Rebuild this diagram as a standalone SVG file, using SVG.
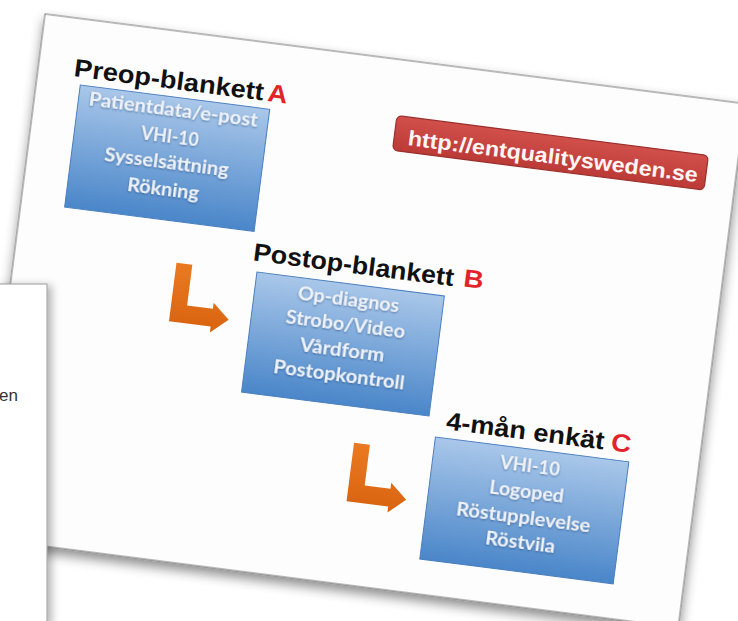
<svg xmlns="http://www.w3.org/2000/svg" width="738" height="621" viewBox="0 0 738 621">
<defs>
<style>
.title{font-family:"Liberation Sans",Arial,sans-serif;font-weight:bold;font-size:25px;fill:#111}
.letter{font-family:"Liberation Sans",Arial,sans-serif;font-weight:bold;font-size:25px;fill:#e2242a}
.box{fill:url(#blue);stroke:#4a7fbf;stroke-width:1}
.bt{font-family:Lato,"Open Sans",sans-serif;font-weight:bold;font-size:19px;fill:#eef3fb;text-anchor:middle}
.arrow{fill:url(#orange)}
.url{font-family:"Liberation Sans",Arial,sans-serif;font-weight:bold;font-size:21px;fill:#fff6f4}
.side{font-family:"Liberation Sans",Arial,sans-serif;font-size:17px;fill:#333}
</style>
<linearGradient id="blue" x1="0" y1="0" x2="0" y2="1">
<stop offset="0" stop-color="#a9c7e9"/>
<stop offset="1" stop-color="#4a86c9"/>
</linearGradient>
<linearGradient id="orange" x1="0" y1="0" x2="0" y2="1">
<stop offset="0" stop-color="#ea7a22"/>
<stop offset="1" stop-color="#d9630f"/>
</linearGradient>
<linearGradient id="red" x1="0" y1="0" x2="0" y2="1">
<stop offset="0" stop-color="#d2504c"/>
<stop offset="1" stop-color="#bb3a36"/>
</linearGradient>
<filter id="shadow" x="-10%" y="-10%" width="120%" height="125%">
<feDropShadow dx="1" dy="6" stdDeviation="6" flood-color="#000" flood-opacity="0.45"/>
</filter>
<filter id="sideshadow" x="-20%" y="-10%" width="160%" height="120%">
<feDropShadow dx="4" dy="2" stdDeviation="4" flood-color="#000" flood-opacity="0.3"/>
</filter>
<filter id="tshadow" x="-10%" y="-30%" width="120%" height="160%">
<feDropShadow dx="0" dy="1" stdDeviation="1" flood-color="#1d3f70" flood-opacity="0.6"/>
</filter>
</defs>

<g id="slide" transform="translate(45,14) rotate(7.3)">
<rect width="706" height="528" fill="#fdfdfd" stroke="#777" stroke-width="1" filter="url(#shadow)"/>

<g id="node-a">
<text class="title" x="36" y="58" textLength="191" lengthAdjust="spacingAndGlyphs">Preop-blankett</text>
<text class="letter" x="231" y="58" textLength="20" lengthAdjust="spacingAndGlyphs">A</text>
<rect class="box" x="44" y="66" width="191" height="123"/>
<g filter="url(#tshadow)">
<text class="bt" x="139.5" y="85" textLength="170" lengthAdjust="spacingAndGlyphs">Patientdata/e-post</text>
<text class="bt" x="139.5" y="112" textLength="58" lengthAdjust="spacingAndGlyphs">VHI-10</text>
<text class="bt" x="139.5" y="138" textLength="125" lengthAdjust="spacingAndGlyphs">Sysselsättning</text>
<text class="bt" x="139.5" y="165" textLength="72" lengthAdjust="spacingAndGlyphs">Rökning</text>
</g>
</g>

<g id="node-b">
<text class="title" x="237" y="218" textLength="202" lengthAdjust="spacingAndGlyphs">Postop-blankett</text>
<text class="letter" x="449" y="217" textLength="20" lengthAdjust="spacingAndGlyphs">B</text>
<rect class="box" x="243" y="229" width="189" height="121"/>
<g filter="url(#tshadow)">
<text class="bt" x="337.5" y="251" textLength="102" lengthAdjust="spacingAndGlyphs">Op-diagnos</text>
<text class="bt" x="337.5" y="276" textLength="120" lengthAdjust="spacingAndGlyphs">Strobo/Video</text>
<text class="bt" x="337.5" y="302" textLength="85" lengthAdjust="spacingAndGlyphs">Vårdform</text>
<text class="bt" x="337.5" y="327" textLength="132" lengthAdjust="spacingAndGlyphs">Postopkontroll</text>
</g>
</g>

<g id="node-c">
<text class="title" x="450" y="361" textLength="159" lengthAdjust="spacingAndGlyphs">4-mån enkät</text>
<text class="letter" x="616" y="361" textLength="20" lengthAdjust="spacingAndGlyphs">C</text>
<rect class="box" x="441" y="370" width="195" height="123"/>
<g filter="url(#tshadow)">
<text class="bt" x="538.5" y="393" textLength="60" lengthAdjust="spacingAndGlyphs">VHI-10</text>
<text class="bt" x="538.5" y="419" textLength="75" lengthAdjust="spacingAndGlyphs">Logoped</text>
<text class="bt" x="538.5" y="445" textLength="135" lengthAdjust="spacingAndGlyphs">Röstupplevelse</text>
<text class="bt" x="538.5" y="470" textLength="70" lengthAdjust="spacingAndGlyphs">Röstvila</text>
</g>
</g>

<g id="node-url">
<rect x="362" y="56" width="314" height="35" rx="5" fill="url(#red)" stroke="#9a2f2c" stroke-width="1.2"/>
<text class="url" x="376" y="84" textLength="292" lengthAdjust="spacingAndGlyphs">http://entqualitysweden.se</text>
</g>

<g id="connectors">
<path class="arrow" d="M162,230 L178,230 L178,271 L204,271 L204,265 L221,280 L204,295 L204,289 L162,289 Z"/>
<path class="arrow" transform="translate(199,156)" d="M162,230 L178,230 L178,271 L204,271 L204,265 L221,280 L204,295 L204,289 L162,289 Z"/>
</g>
</g>

<g id="sidebox">
<rect x="-2" y="284" width="49" height="340" fill="#fff" stroke="#999" stroke-width="1" filter="url(#sideshadow)"/>
<text class="side" x="-1" y="401">en</text>
</g>
</svg>
